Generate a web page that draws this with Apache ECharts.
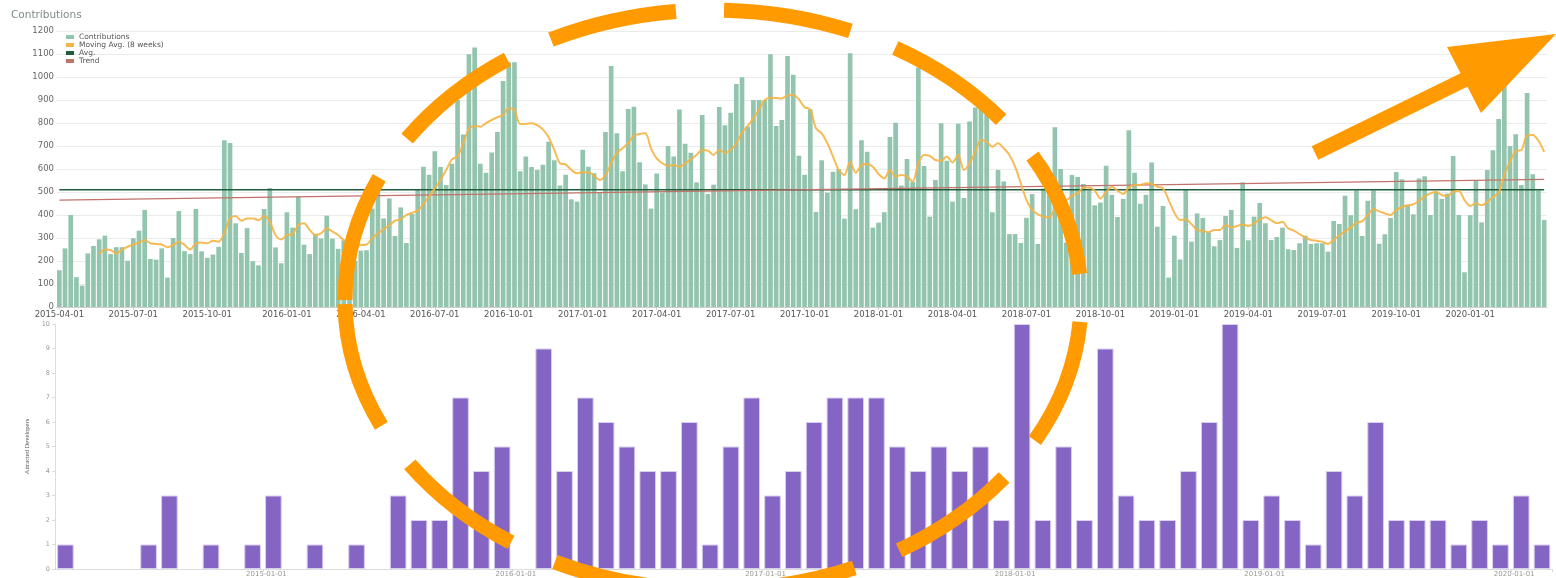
<!DOCTYPE html>
<html>
<head>
<meta charset="utf-8">
<script src="https://cdn.jsdelivr.net/npm/echarts@6/dist/echarts.min.js"></script>
<style>
  html, body { margin: 0; padding: 0; background: #fff; }
  #chart { width: 1556px; height: 578px; }
</style>
</head>
<body>
<div id="chart"></div>
<script>
// weekly contributions, first bar is the week of 2015-03-30
const firstWeek = '2015-03-30';
const contributions = [
  160, 255, 400, 130, 93, 233, 265, 294, 310, 230,
  260, 260, 201, 299, 332, 422, 209, 206, 255, 128,
  300, 417, 243, 230, 426, 242, 214, 228, 262, 725,
  713, 364, 235, 343, 199, 181, 426, 517, 259, 190,
  412, 345, 480, 271, 230, 318, 298, 397, 297, 253,
  290, 230, 200, 245, 247, 428, 500, 385, 472, 309,
  433, 278, 405, 510, 610, 575, 677, 609, 530, 623,
  900, 750, 1099, 1128, 623, 584, 672, 761, 983, 1064,
  1064, 590, 654, 609, 596, 619, 719, 638, 528, 575,
  468, 458, 684, 610, 581, 497, 761, 1048, 755, 590,
  861, 871, 629, 533, 428, 580, 497, 700, 654, 859,
  710, 671, 542, 835, 491, 532, 870, 790, 845, 970,
  999, 785, 900, 900, 900, 1099, 787, 813, 1091, 1010,
  658, 575, 859, 413, 638, 497, 588, 599, 384, 1103,
  425, 725, 675, 345, 367, 412, 739, 801, 528, 643,
  543, 1041, 613, 393, 552, 799, 636, 458, 797, 474,
  806, 867, 900, 850, 412, 596, 546, 317, 317, 278,
  388, 491, 274, 515, 520, 781, 600, 280, 574, 565,
  535, 506, 442, 454, 614, 488, 391, 470, 768, 584,
  449, 488, 628, 349, 439, 128, 310, 207, 509, 284,
  407, 387, 325, 264, 291, 396, 422, 257, 542, 290,
  393, 452, 364, 291, 304, 345, 251, 248, 277, 310,
  274, 277, 277, 241, 374, 361, 484, 399, 507, 309,
  462, 507, 275, 316, 387, 587, 555, 443, 403, 559,
  568, 400, 499, 470, 493, 657, 400, 151, 399, 552,
  368, 596, 681, 817, 960, 700, 751, 530, 930, 577,
  507, 378
];
const movingAvg = [
  null, null, null, null, null, null, null, 230, 250, 248,
  232, 250, 262, 272, 280, 291, 277, 274, 272, 260,
  270, 284, 270, 250, 277, 280, 277, 288, 284, 322,
  385, 396, 375, 385, 385, 378, 396, 371, 313, 294,
  313, 317, 356, 364, 335, 313, 320, 342, 328, 313,
  291, 284, 277, 270, 272, 299, 320, 338, 355, 375,
  381, 400, 410, 419, 448, 480, 516, 552, 596, 642,
  654, 712, 774, 787, 784, 799, 813, 825, 835, 864,
  857, 796, 796, 799, 791, 772, 738, 683, 625, 620,
  596, 581, 586, 586, 571, 552, 574, 625, 671, 690,
  712, 745, 752, 755, 690, 646, 625, 614, 617, 610,
  625, 642, 661, 683, 680, 661, 683, 671, 683, 712,
  758, 787, 820, 859, 900, 910, 909, 907, 920, 922,
  903, 868, 859, 777, 755, 712, 654, 596, 574, 632,
  584, 617, 622, 610, 578, 559, 596, 567, 574, 567,
  545, 625, 661, 657, 639, 636, 654, 628, 661, 596,
  625, 675, 726, 719, 697, 712, 690, 661, 610, 538,
  465, 422, 403, 393, 390, 429, 465, 465, 484, 494,
  519, 520, 506, 472, 500, 523, 506, 491, 520, 529,
  530, 538, 535, 523, 516, 465, 410, 378, 381, 361,
  335, 332, 325, 335, 335, 357, 346, 352, 359, 352,
  364, 381, 390, 378, 364, 371, 342, 332, 317, 303,
  291, 288, 284, 274, 291, 312, 330, 346, 367, 372,
  400, 425, 416, 407, 400, 422, 435, 442, 446, 462,
  480, 494, 501, 487, 483, 501, 504, 465, 439, 451,
  442, 457, 477, 497, 574, 632, 678, 683, 745, 748,
  723, 675
];
const avgValue = 510;
const trendStart = 465;
const trendEnd = 555;
const quarterLabels = [
  '2015-04-01', '2015-07-01', '2015-10-01', '2016-01-01', '2016-04-01',
  '2016-07-01', '2016-10-01', '2017-01-01', '2017-04-01', '2017-07-01',
  '2017-10-01', '2018-01-01', '2018-04-01', '2018-07-01', '2018-10-01',
  '2019-01-01', '2019-04-01', '2019-07-01', '2019-10-01', '2020-01-01'
];

// monthly attracted developers, first bar is 2014-03
const firstMonth = [2014, 3];
const attracted = [
  1, 0, 0, 0, 1, 3, 0, 1, 0, 1, 3, 0,
  1, 0, 1, 0, 3, 2, 2, 7, 4, 5, 0, 9,
  4, 7, 6, 5, 4, 4, 6, 1, 5, 7, 3, 4,
  6, 7, 7, 7, 5, 4, 5, 4, 5, 2, 10, 2,
  5, 2, 9, 3, 2, 2, 4, 6, 10, 2, 3, 2,
  1, 4, 3, 6, 2, 2, 2, 1, 2, 1, 3, 1
];
const yearLabels = ['2015-01-01', '2016-01-01', '2017-01-01', '2018-01-01', '2019-01-01', '2020-01-01'];

const FONT = 'DejaVu Sans';
const DAY = 86400000;

// week categories + which week carries a quarter label
const weeks = [];
const start = Date.parse(firstWeek + 'T00:00:00Z');
for (let i = 0; i < contributions.length; i++) {
  weeks.push(new Date(start + i * 7 * DAY).toISOString().slice(0, 10));
}
const weekLabel = {};
quarterLabels.forEach(function (q) {
  const idx = Math.round((Date.parse(q + 'T00:00:00Z') - start) / (7 * DAY));
  weekLabel[weeks[idx]] = q;
});

// month categories
const months = [];
for (let i = 0; i < attracted.length; i++) {
  const m = firstMonth[1] - 1 + i;
  const y = firstMonth[0] + Math.floor(m / 12);
  months.push(y + '-' + String(m % 12 + 1).padStart(2, '0'));
}
const monthLabel = {};
yearLabels.forEach(function (l) { monthLabel[l.slice(0, 7)] = l; });

// empty months get no outline
const attractedData = attracted.map(function (v) {
  return v === 0 ? { value: 0, itemStyle: { borderWidth: 0 } } : v;
});

const lastWeek = weeks[weeks.length - 1];
const orange = '#ff9a00';

const chart = echarts.init(document.getElementById('chart'));
chart.setOption({
  animation: false,
  textStyle: { fontFamily: FONT },
  title: {
    text: 'Contributions',
    left: 11, top: 10, padding: 0,
    textStyle: { fontSize: 10.5, fontWeight: 'normal', color: '#7d8b8b', fontFamily: FONT }
  },
  legend: {
    orient: 'vertical',
    left: 66, top: 33, padding: 0,
    icon: 'rect',
    itemWidth: 8, itemHeight: 4, itemGap: 0,
    textStyle: { fontSize: 7.5, lineHeight: 7, color: '#555', fontFamily: FONT },
    data: ['Contributions', 'Moving Avg. (8 weeks)', 'Avg.', 'Trend']
  },
  grid: [
    { left: 56.5, right: 9, top: 31, height: 276 },
    { left: 55, right: 3.6, top: 324, height: 246 }
  ],
  xAxis: [
    {
      type: 'category', gridIndex: 0, data: weeks, boundaryGap: true,
      axisLine: { lineStyle: { color: '#cfcfcf' } },
      axisTick: {
        show: true, alignWithLabel: true, length: 3,
        interval: function (i, v) { return !!weekLabel[v]; },
        lineStyle: { color: '#cfcfcf' }
      },
      axisLabel: {
        interval: function (i, v) { return !!weekLabel[v]; },
        formatter: function (v) { return weekLabel[v] || ''; },
        fontSize: 8.5, color: '#555', margin: 3, fontFamily: FONT
      }
    },
    {
      type: 'category', gridIndex: 1, data: months, boundaryGap: true,
      axisLine: { lineStyle: { color: '#dcdcdc' } },
      axisTick: {
        show: true, length: 3,
        interval: function (i, v) { return !!monthLabel[v]; },
        lineStyle: { color: '#dcdcdc' }
      },
      axisLabel: {
        interval: function (i, v) { return !!monthLabel[v]; },
        formatter: function (v) { return monthLabel[v] || ''; },
        fontSize: 7, color: '#999', margin: 2, padding: [0, 14, 0, 0], fontFamily: FONT
      }
    }
  ],
  yAxis: [
    {
      type: 'value', gridIndex: 0, min: 0, max: 1200, interval: 100,
      axisLine: { show: false },
      axisTick: { show: false },
      axisLabel: {
        fontSize: 8.5, color: '#666', margin: 2.5, fontFamily: FONT,
        formatter: function (v) { return String(v); }
      },
      splitLine: { lineStyle: { color: '#ebebeb' } }
    },
    {
      type: 'value', gridIndex: 1, min: 0, max: 10, interval: 1,
      name: 'Attracted Developers', nameLocation: 'middle', nameGap: 22, nameRotate: 90,
      nameTextStyle: { fontSize: 6.5, color: '#555', fontFamily: 'Liberation Sans Narrow' },
      axisLine: { show: true, lineStyle: { color: '#dcdcdc' } },
      axisTick: { show: true, length: 3, lineStyle: { color: '#dcdcdc' } },
      axisLabel: { fontSize: 6.5, color: '#999', margin: 5, fontFamily: FONT },
      splitLine: { show: false }
    }
  ],
  series: [
    {
      name: 'Contributions', type: 'bar', xAxisIndex: 0, yAxisIndex: 0,
      data: contributions, barCategoryGap: '18%',
      itemStyle: { color: '#93c4ad' }
    },
    {
      name: 'Moving Avg. (8 weeks)', type: 'line', xAxisIndex: 0, yAxisIndex: 0,
      data: movingAvg, showSymbol: false, smooth: 0.3,
      itemStyle: { color: '#f5b443' },
      lineStyle: { color: '#f5b443', width: 2, opacity: 0.9 },
      z: 4
    },
    {
      name: 'Avg.', type: 'line', xAxisIndex: 0, yAxisIndex: 0,
      data: [[weeks[0], avgValue], [lastWeek, avgValue]], showSymbol: false,
      itemStyle: { color: '#1f5d3d' },
      lineStyle: { color: '#1f5d3d', width: 1.5 },
      z: 3
    },
    {
      name: 'Trend', type: 'line', xAxisIndex: 0, yAxisIndex: 0,
      data: [[weeks[0], trendStart], [lastWeek, trendEnd]], showSymbol: false,
      itemStyle: { color: '#c2726a' },
      lineStyle: { color: '#c2726a', width: 1.2 },
      z: 3
    },
    {
      name: 'Attracted Developers', type: 'bar', xAxisIndex: 1, yAxisIndex: 1,
      data: attractedData, barCategoryGap: '20%',
      itemStyle: { color: '#8565c4', borderColor: '#d9cff0', borderWidth: 1 }
    }
  ],
  graphic: [
    {
      type: 'ellipse', silent: true, z: 100,
      shape: { cx: 713, cy: 300, rx: 368, ry: 290 },
      style: { fill: null, stroke: orange, lineWidth: 15, lineDash: [128.5, 48] }
    },
    {
      type: 'line', silent: true, z: 100,
      shape: { x1: 1315, y1: 153, x2: 1468, y2: 78 },
      style: { stroke: orange, lineWidth: 15 }
    },
    {
      type: 'polygon', silent: true, z: 100,
      shape: { points: [[1447, 47], [1556, 34], [1481, 113]] },
      style: { fill: orange }
    }
  ]
});
</script>
</body>
</html>
